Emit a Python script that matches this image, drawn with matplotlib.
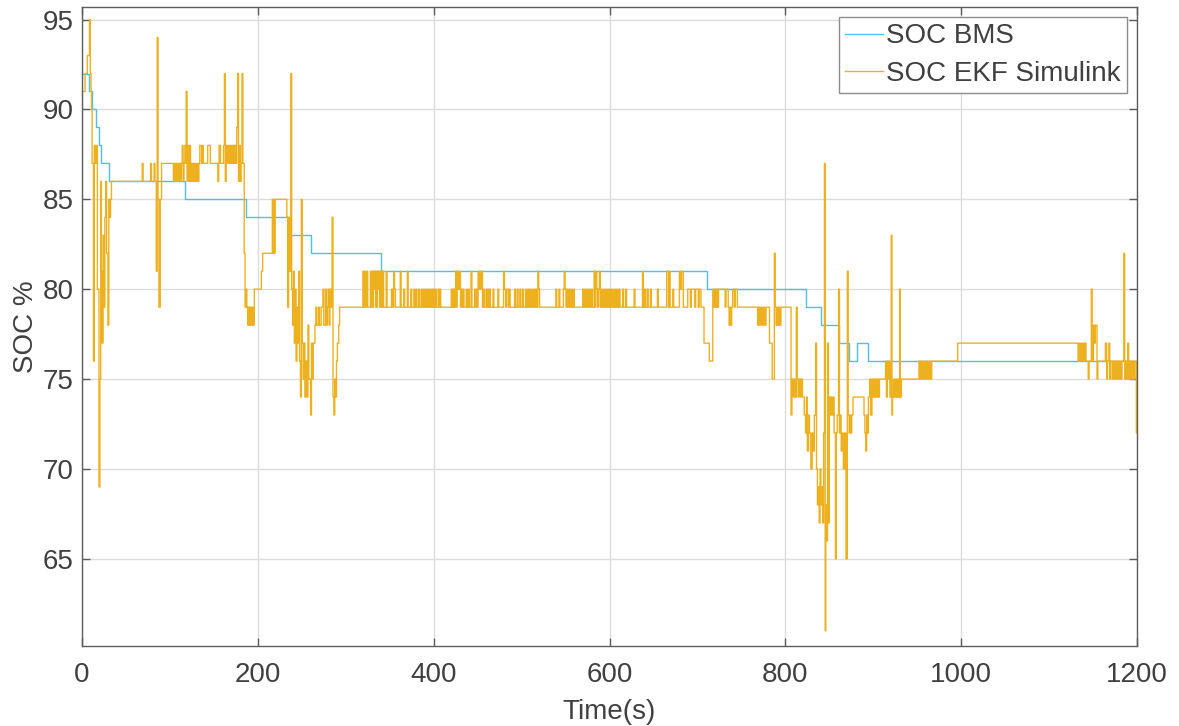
import matplotlib
matplotlib.use("Agg")
import matplotlib.pyplot as plt

# --- SOC reported by the battery management system (step changes) ---
bms_t = [0, 8, 11, 16, 19, 22, 31, 117, 187, 237, 261, 340.5, 711, 823.5, 840, 861, 872.5, 881, 893.5, 1200]
bms_v = [92, 91, 90, 89, 88, 87, 86, 85, 84, 83, 82, 81, 80, 79, 78, 77, 76, 77, 76, 76]

# --- SOC estimated by the EKF Simulink model: (time, value) held until next time ---
ekf_start = [
    (0, 91), (3.5, 92), (6, 93), (8.5, 95), (9.5, 92), (10.3, 91), (10.8, 90), (11.5, 87),
    (13, 76), (14, 88), (15.5, 87), (16.5, 88), (17.5, 80), (19.3, 69), (20.3, 75), (21.3, 86),
    (22, 81), (22.8, 77), (24, 83), (25, 79), (26, 84), (27, 86), (28, 82), (29.5, 78),
    (30.5, 85), (31.5, 84), (32.5, 85), (33.5, 86),
    (68.5, 87), (69.5, 86), (78, 87), (79, 86), (82, 87), (83, 86), (84.5, 81), (85.5, 94),
    (86.5, 85), (87.5, 79), (89, 85), (90.5, 87),
]
ekf_high = [
    (104, 86), (105, 87), (106, 86), (107, 87), (108, 86), (109, 87), (110, 86), (111, 87),
    (112, 86), (113, 87), (114, 88), (115, 86), (116, 87), (117, 88), (118, 87), (118.5, 91),
    (119.5, 86), (120.5, 88), (121.5, 86), (122.5, 88), (123.5, 86), (124.5, 87), (125.5, 86),
    (126.5, 87), (127.5, 86), (128.5, 87), (129.5, 86), (130.5, 87), (131.5, 86), (133, 87),
    (134, 88), (136, 87), (137, 88), (138, 87), (143, 88), (146, 87), (154.5, 86), (155.5, 87),
    (156, 88), (157.5, 87), (161, 88), (162, 92), (163, 86), (164, 88), (165, 87), (166, 88),
    (167, 87), (168, 88), (169, 87), (170, 88), (171, 87), (172, 88), (173, 87), (174, 88),
    (175, 87), (176, 89), (177, 92), (178, 86), (179, 88), (180, 86), (181, 87), (182, 92),
    (183, 87), (184.5, 82),
]
ekf_dip1 = [
    (185.5, 79), (186.5, 80), (187.5, 79), (188.5, 78), (189.5, 79), (190.5, 78), (191.5, 79),
    (192.5, 78), (193.5, 79), (194.5, 78), (196, 80), (204, 81), (205.5, 82), (216.5, 85),
    (217.5, 82), (218.5, 85), (219, 82), (219.5, 85), (233, 84), (234, 79), (235, 84), (236, 81),
    (237.5, 92), (238.5, 80), (239.5, 78), (240.5, 81), (241.5, 77), (242.5, 80), (243.5, 76),
    (244.5, 79), (245.5, 77), (246.5, 81), (247.5, 76), (248.5, 74), (249.5, 85), (250.5, 77),
    (251.5, 75), (252.5, 77), (253.5, 74), (254.5, 76), (256, 74), (257, 78), (258, 75),
    (260, 73), (261, 77), (262, 75), (263, 77), (265, 78), (266, 79), (267, 78), (269, 79),
    (270, 78), (272, 79), (274, 80), (275, 78), (277, 80), (278, 78), (279, 79), (280, 80),
    (281, 78), (282, 80), (283, 79), (284, 80), (284.5, 84), (285.5, 74), (286.5, 73),
    (287.5, 75), (288.5, 74), (289.5, 76), (290.5, 77), (292, 78), (293, 79),
]
ekf_mid1 = [
    (319.5, 81), (320.5, 79), (321.5, 81), (322.5, 79), (324, 81), (325, 79), (328, 81),
    (329, 79), (330, 81), (331, 79), (331.5, 81), (332.5, 80), (333, 81), (334, 79), (334.5, 81),
    (335.5, 79), (336, 81), (337, 80), (337.5, 81), (338.5, 79), (339, 81), (340, 79),
    (340.5, 81), (341.5, 79), (342, 81), (343, 79), (346, 81), (347, 79), (352, 80), (353, 79),
    (354.5, 81), (355.5, 80), (356.5, 79), (362, 81), (363, 79), (366, 80), (367, 79), (370, 81),
    (371, 79), (374, 80), (375, 79), (377.5, 80), (378.5, 79), (380, 80), (381, 79), (383, 80),
    (384, 79), (386, 80), (387, 79), (388.5, 80), (389.5, 79), (391, 80), (392, 79), (393, 80),
    (394, 79), (395.5, 80), (396.5, 79), (398, 80), (399, 79), (400, 80), (401, 79), (402, 80),
    (403, 79), (405, 80), (406, 79), (407, 80), (408, 79),
]
ekf_mid2 = [
    (420, 80), (421, 79), (422, 80), (423, 79), (423.5, 80), (424.5, 79), (425, 81), (426, 79),
    (426.5, 80), (427.5, 81), (428.5, 80), (429.5, 81), (430.5, 79), (431.5, 80), (432.5, 79),
    (433.5, 80), (434.5, 79), (437, 80), (438, 79), (439.5, 80), (440.5, 79), (442.5, 81),
    (443.5, 79), (446.5, 80), (447.5, 79), (448.5, 80), (449.5, 79), (450.5, 81), (451.5, 80),
    (452.5, 81), (453.5, 80), (454.5, 81), (455.5, 79), (456.5, 80), (457.5, 79), (459.5, 80),
    (460.5, 79), (461.5, 80), (462.5, 79), (463.5, 80), (464.5, 79), (467.5, 80), (468.5, 79),
    (473, 80), (474, 79), (479.5, 81), (480.5, 80), (482, 79), (483, 80), (485, 79), (486, 80),
    (487, 79), (492, 80), (493, 79), (495, 80), (496, 79), (498, 80), (499, 79), (501, 80),
    (502, 79), (504.5, 80), (505.5, 79), (507, 80), (508, 79), (509, 80), (510, 79),
    (511.5, 80), (512.5, 79), (514, 80), (515, 79), (516, 80), (517, 79), (518.5, 81),
    (519.5, 80), (520.5, 79), (539, 80), (540, 79), (542.5, 80), (543.5, 79), (547.5, 80),
    (548.5, 81), (549.5, 80), (550.5, 79), (551.5, 80), (552.5, 79), (554, 80), (555, 79),
    (556.5, 80), (557.5, 79), (559, 80), (560, 79), (569.5, 80), (570.5, 79), (572, 80),
    (573, 79), (574.5, 80), (575.5, 79), (577, 80), (578, 79), (579.5, 80), (580.5, 79),
    (582.5, 81), (583.5, 79), (584.5, 81), (585.5, 80), (586.5, 79), (587.5, 80), (588.5, 81),
    (589.5, 79), (591, 80), (592, 79), (593.5, 80), (594.5, 79), (596, 80), (597, 79),
    (598.5, 80), (599.5, 79), (601, 80), (602, 79), (603.5, 80), (604.5, 79), (606, 80),
    (607, 79), (608.5, 80), (609.5, 79), (611, 80), (612, 79), (615, 80), (616, 79),
    (618.5, 80), (619.5, 79), (628, 80), (629, 79), (637.5, 81), (638.5, 79), (640, 80),
    (641, 79), (643, 80), (644, 79), (646.5, 80), (647.5, 79), (654.5, 80), (655.5, 79),
    (665, 81), (667, 79), (668, 81), (669, 79), (672, 80), (673, 79), (679.5, 81), (681, 80),
    (682, 81), (684, 79), (689, 80), (692, 79), (693, 80), (697, 79), (698, 80), (701, 79),
    (702, 80), (704, 79), (707.5, 77), (713.5, 76),
]
ekf_dip2 = [
    (717.5, 80), (719, 79), (720, 80), (721, 79), (722, 80), (723, 79), (724, 80),
    (731.5, 79), (732.5, 80), (735, 79), (736, 78), (737, 79), (738, 78), (739, 79), (740, 80),
    (742, 79), (743, 80), (745.5, 79), (768.5, 78), (769.5, 79), (771, 78), (772, 79),
    (773.5, 78), (775, 79), (776.5, 78), (778, 79), (782, 77), (785, 75), (787.5, 82),
    (788.5, 79), (789.5, 78), (790.5, 79), (791.5, 78), (792.5, 79), (793.5, 78), (795, 79),
    (806.5, 73), (807.5, 75), (809, 74), (810, 75), (811, 74), (812.5, 79), (813.5, 75),
    (814.5, 74), (815.5, 75), (817, 74), (818, 75), (819.5, 74), (821.5, 73), (823, 72),
    (824, 74), (825, 71), (826.5, 73), (827.5, 72), (829, 70), (830.5, 72), (831.5, 71),
    (833, 73), (834.5, 77), (835.5, 70), (836.5, 68), (837.5, 69), (838.5, 67), (839.5, 70),
    (840.5, 68), (841.5, 69), (842.5, 67), (843.5, 72), (844.5, 87), (845.3, 61), (846, 68),
    (847, 66), (848, 77), (849, 67), (850, 74), (851, 73), (852, 74), (853, 73), (854.5, 74),
    (855.5, 72), (857, 65), (858, 72), (859, 73), (860.5, 80), (861.5, 72), (862.5, 73),
    (863.5, 71), (864.5, 72), (866, 70), (867.5, 72), (869, 65), (870.5, 81), (871.5, 73),
    (872.5, 72), (873.5, 73), (874.5, 72), (875.5, 73), (877, 74),
]
ekf_recover = [
    (889.5, 73), (890.5, 72), (891.5, 71), (892.5, 73), (893.5, 72), (894.5, 74), (896, 75),
    (897, 73), (898.5, 75), (899.5, 74), (900.5, 75), (901.5, 74), (902.5, 75), (903.5, 74),
    (905, 75), (906, 74), (907, 75), (914, 76), (915, 74), (916, 76), (917, 75), (918, 76),
    (919, 74), (920.5, 83), (921.3, 73), (922, 74), (923, 75), (924, 74), (925.5, 75),
    (926.5, 74), (927.5, 75), (928.5, 74), (930, 80), (930.8, 74), (932, 75), (952, 76),
    (953, 75), (954, 76), (955, 75), (956.5, 76), (957.5, 75), (959, 76), (960, 75),
    (961.5, 76), (962.5, 75), (964, 76), (965, 75), (966.5, 76), (996, 77),
]
ekf_end = [
    (1133, 76), (1134.5, 77), (1136, 76), (1137.5, 77), (1139, 76), (1140.5, 77), (1142, 76),
    (1144.5, 75), (1145.5, 76), (1148, 80), (1149, 76), (1150.5, 78), (1151.5, 77),
    (1152.5, 78), (1154.5, 75), (1155.5, 76), (1164, 77), (1165.5, 75), (1166.5, 76),
    (1168, 77), (1169, 75), (1170, 76), (1172, 75), (1173, 76), (1174.5, 75), (1175.5, 76),
    (1177, 75), (1178, 76), (1179.5, 75), (1180.5, 76), (1182, 75), (1183, 76), (1185, 82),
    (1186, 75), (1187, 76), (1188, 75), (1189.5, 77), (1190.5, 75), (1191.5, 76), (1192.5, 75),
    (1193.5, 76), (1194.5, 75), (1195.5, 76), (1196.5, 75), (1197.5, 76), (1199.3, 72),
    (1200, 72),
]

x_ticks = [0, 200, 400, 600, 800, 1000, 1200]
y_ticks = [65, 70, 75, 80, 85, 90, 95]

ekf_points = (ekf_start + ekf_high + ekf_dip1 + ekf_mid1 + ekf_mid2
              + ekf_dip2 + ekf_recover + ekf_end)
ekf_t = [p[0] for p in ekf_points]
ekf_v = [p[1] for p in ekf_points]

TEXT = "#404040"
AXIS = "#5c5c5c"
FS = 20
plt.rcParams["font.family"] = ["Liberation Sans", "DejaVu Sans"]

fig = plt.figure(figsize=(11.79, 7.26), dpi=100)
ax = fig.add_axes([82 / 1179, 80 / 726, 1055 / 1179, 639 / 726])

ax.plot(bms_t, bms_v, drawstyle="steps-post", color="#4DBEEE", lw=1.0, label="SOC BMS")
ax.plot(ekf_t, ekf_v, drawstyle="steps-post", color="#EDB120", lw=1.0, label="SOC EKF Simulink")

ax.set_xlim(0, 1200)
ax.set_ylim(60.15, 95.7)
ax.set_xticks(x_ticks)
ax.set_yticks(y_ticks)
ax.grid(True, color="#dcdcdc", lw=1.0)
ax.set_axisbelow(True)

for s in ax.spines.values():
    s.set_color(AXIS)
    s.set_linewidth(1.0)
ax.tick_params(direction="in", length=6, width=1.0, color=AXIS, labelcolor=TEXT,
               labelsize=FS, top=True, right=True)
ax.tick_params(axis="x", pad=11.5)
ax.tick_params(axis="y", pad=6.3)

ax.set_xlabel("Time(s)", fontsize=FS, color=TEXT)
ax.set_ylabel("SOC %", fontsize=FS, color=TEXT)
ax.xaxis.set_label_coords(0.5, -0.083)
ax.yaxis.set_label_coords(-0.041, 0.5)

leg = ax.legend(loc="upper right", bbox_to_anchor=(0.9905, 0.984), borderaxespad=0,
                fontsize=FS, handlelength=1.35, handletextpad=0.12, labelspacing=0.42,
                borderpad=0.22, fancybox=False, framealpha=1, edgecolor="#8c8c8c")
for t in leg.get_texts():
    t.set_color(TEXT)
leg.get_frame().set_linewidth(1.0)

fig.savefig("out.png", dpi=100, facecolor="white")
